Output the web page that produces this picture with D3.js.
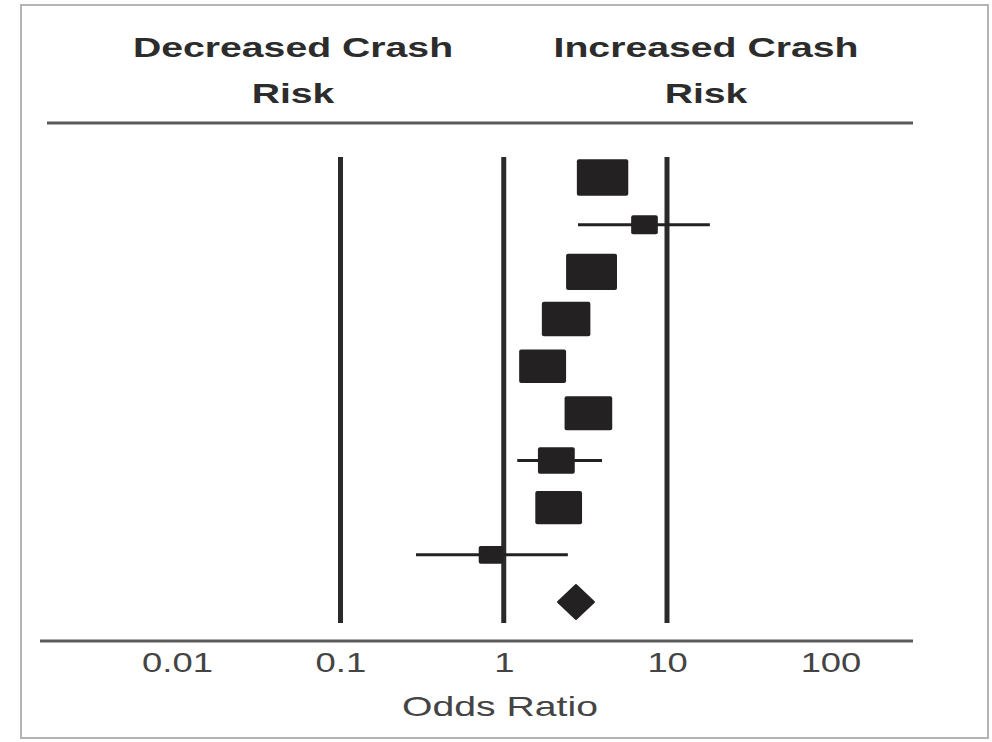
<!DOCTYPE html>
<html>
<head>
<meta charset="utf-8">
<script src="https://cdn.jsdelivr.net/npm/d3@7"></script>
<style>
    html, body { margin: 0; padding: 0; background: #fff; }
    svg { display: block; }
</style>
</head>
<body>
<div id="grafiek"></div>
<script>
// studies from top to bottom, the last row is the pooled estimate
const RIJEN = ['s1', 's2', 's3', 's4', 's5', 's6', 's7', 's8', 's9', 'totaal'];
const OR = [4.03, 7.28, 3.45, 2.41, 1.73, 3.30, 2.10, 2.17, 0.836];
const CI_LAAG = [3.5, 2.85, 2.9, 2.1, 1.5, 2.8, 1.21, 1.9, 0.29];
const CI_HOOG = [4.6, 18.3, 4.2, 2.8, 2.0, 3.9, 4.00, 2.5, 2.47];
const GEWICHT = [15.6, 4.2, 15.3, 13.9, 13.0, 13.4, 8.0, 12.9, 3.6];
const TOTAAL = { or: 2.77, laag: 2.15, hoog: 3.57 };

const TICKS = [0.01, 0.1, 1, 10, 100];
const TICK_LABELS = ['0.01', '0.1', '1', '10', '100'];
const REF_LIJNEN = [0.1, 1, 10];
const KOPPEN = [
    { regels: ['Decreased Crash', 'Risk'], x: 293 },
    { regels: ['Increased Crash', 'Risk'], x: 706 },
];

const breedte = 992;
const hoogte = 742;
const rek = 1.4; // picture is stretched sideways
const zwart = '#242122';

const svg = d3.select('#grafiek').append('svg')
    .attr('width', breedte)
    .attr('height', hoogte);

// frame of the screenshot
svg.append('rect')
    .attr('x', 21).attr('y', 5)
    .attr('width', 967).attr('height', 733)
    .attr('fill', '#fff')
    .attr('stroke', '#b4b4b4')
    .attr('stroke-width', 2);

const x = d3.scaleLog()
    .domain([0.1, 10])
    .range([340.5, 667]);

const y = d3.scalePoint()
    .domain(RIJEN)
    .range([177.5, 602]);

// side of a box from its weight (box area ~ weight)
const oppPerGewicht = 121;
const boxHoogte = g => Math.sqrt(g * oppPerGewicht / rek);

// headings
KOPPEN.forEach(k => {
    k.regels.forEach((r, i) => {
        svg.append('text')
            .attr('transform', `translate(${k.x},${57 + i * 46}) scale(${rek},1)`)
            .attr('text-anchor', 'middle')
            .style('font-family', '"Liberation Sans", Arial, sans-serif')
            .style('font-weight', 'bold')
            .style('font-size', '28px')
            .style('fill', '#2c2c2c')
            .text(r);
    });
});

svg.append('line')
    .attr('x1', 47).attr('x2', 913)
    .attr('y1', 123).attr('y2', 123)
    .attr('stroke', '#5a5a5a')
    .attr('stroke-width', 3);

svg.append('line')
    .attr('x1', 40).attr('x2', 913)
    .attr('y1', 641).attr('y2', 641)
    .attr('stroke', '#5a5a5a')
    .attr('stroke-width', 3);

// reference lines
svg.selectAll('.ref')
    .data(REF_LIJNEN)
    .join('line')
    .attr('class', 'ref')
    .attr('x1', d => x(d)).attr('x2', d => x(d))
    .attr('y1', 157).attr('y2', 623)
    .attr('stroke', '#2a2a2a')
    .attr('stroke-width', 5);

const studies = OR.map((or, i) => ({
    rij: RIJEN[i], or, laag: CI_LAAG[i], hoog: CI_HOOG[i], gewicht: GEWICHT[i]
}));

svg.selectAll('.ci')
    .data(studies)
    .join('line')
    .attr('class', 'ci')
    .attr('x1', d => x(d.laag)).attr('x2', d => x(d.hoog))
    .attr('y1', d => y(d.rij)).attr('y2', d => y(d.rij))
    .attr('stroke', zwart)
    .attr('stroke-width', 3);

svg.selectAll('.box')
    .data(studies)
    .join('rect')
    .attr('class', 'box')
    .attr('x', d => x(d.or) - boxHoogte(d.gewicht) * rek / 2)
    .attr('y', d => y(d.rij) - boxHoogte(d.gewicht) / 2)
    .attr('width', d => boxHoogte(d.gewicht) * rek)
    .attr('height', d => boxHoogte(d.gewicht))
    .attr('rx', 2)
    .attr('fill', zwart);

// pooled estimate
const ty = y('totaal');
const halfH = 17;
svg.append('path')
    .attr('d', `M${x(TOTAAL.laag)},${ty} L${x(TOTAAL.or)},${ty - halfH} L${x(TOTAAL.hoog)},${ty} L${x(TOTAAL.or)},${ty + halfH} Z`)
    .attr('fill', zwart)
    .attr('stroke', zwart)
    .attr('stroke-width', 2)
    .attr('stroke-linejoin', 'round');

// axis labels
const as = svg.append('g')
    .attr('transform', 'translate(0,641)')
    .call(d3.axisBottom(x.copy().domain([0.01, 100]).range([177, 830.5]))
        .tickValues(TICKS)
        .tickFormat((d, i) => TICK_LABELS[i])
        .tickSize(0));
as.select('.domain').remove();
as.selectAll('text')
    .attr('y', 31)
    .attr('dy', 0)
    .attr('transform', 'scale(1.3,1)')
    .style('font-family', '"Liberation Sans", Arial, sans-serif')
    .style('font-size', '28px')
    .style('fill', '#444');

svg.append('text')
    .attr('transform', `translate(500,716) scale(${rek},1)`)
    .attr('text-anchor', 'middle')
    .style('font-family', '"Liberation Sans", Arial, sans-serif')
    .style('font-size', '28px')
    .style('fill', '#444')
    .text('Odds Ratio');
</script>
</body>
</html>
